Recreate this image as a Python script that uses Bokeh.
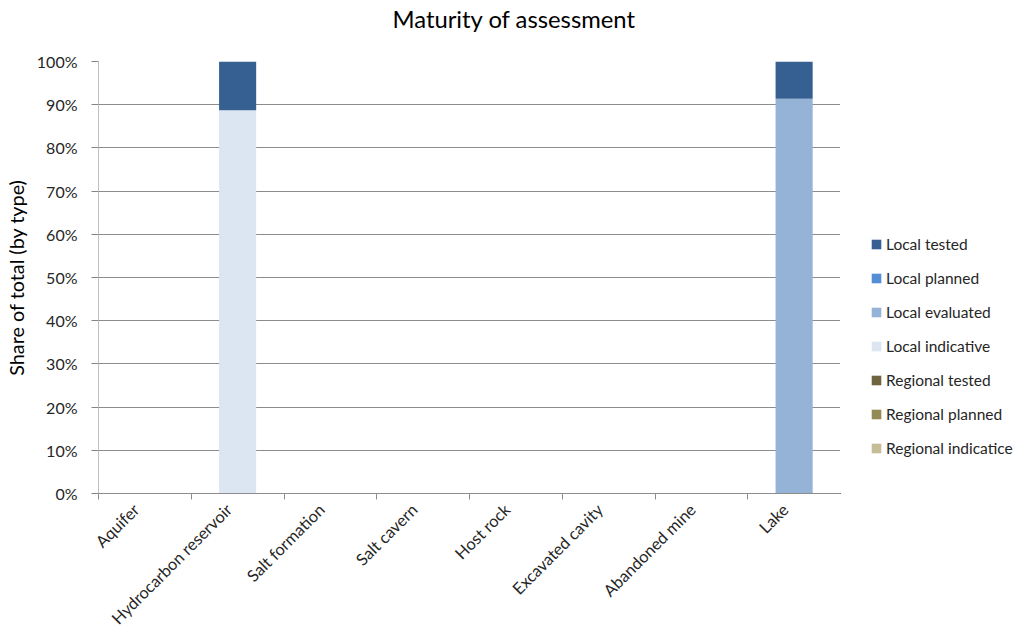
from bokeh.plotting import figure
from bokeh.layouts import row
from bokeh.models import (ColumnDataSource, Range1d, FixedTicker, NumeralTickFormatter,
                          Legend, LegendItem, Title)
from bokeh.embed import file_html
from bokeh.resources import INLINE

# Storage types and share of total per assessment maturity level
categories = ["Aquifer", "Hydrocarbon reservoir", "Salt formation", "Salt cavern",
              "Host rock", "Excavated cavity", "Abandoned mine", "Lake"]

regional_indicatice = [0, 0, 0, 0, 0, 0, 0, 0]
regional_planned    = [0, 0, 0, 0, 0, 0, 0, 0]
regional_tested     = [0, 0, 0, 0, 0, 0, 0, 0]
local_indicative    = [0, 0.887, 0, 0, 0, 0, 0, 0]
local_evaluated     = [0, 0, 0, 0, 0, 0, 0, 0.914]
local_planned       = [0, 0, 0, 0, 0, 0, 0, 0]
local_tested        = [0, 0.113, 0, 0, 0, 0, 0, 0.086]

series_names = ["Regional indicatice", "Regional planned", "Regional tested",
                "Local indicative", "Local evaluated", "Local planned", "Local tested"]
series_values = [regional_indicatice, regional_planned, regional_tested,
                 local_indicative, local_evaluated, local_planned, local_tested]
series_colors = ["#c4bd97", "#948a54", "#6e6540",
                 "#dce6f2", "#95b3d7", "#558ed5", "#376092"]

y_ticks = [i / 10 for i in range(11)]

FONT = "Lato"
TEXT = "#262626"

positions = [i + 0.5 for i in range(len(categories))]
data = {"x": positions}
for name, vals in zip(series_names, series_values):
    data[name] = vals
source = ColumnDataSource(data)

# main chart: plot area spans x 95..840, y 61..493
p = figure(width=840, height=637, output_backend="svg", toolbar_location=None,
           x_range=Range1d(0, len(categories)), y_range=Range1d(0, 1),
           min_border_left=95, min_border_right=0, min_border_top=61,
           min_border_bottom=144, title="Maturity of assessment")
p.outline_line_color = None
p.background_fill_color = "white"
p.border_fill_color = "white"

p.title.align = "left"
p.title.offset = 294
p.title.vertical_align = "top"
p.title.standoff = 0
p.title.text_font = FONT
p.title.text_font_size = "23.8px"
p.title.text_font_style = "normal"
p.title.text_color = "#000000"
# blank spacer between the title and the plot area
p.add_layout(Title(text=" ", text_font_size="22px", standoff=0), "above")

renderers = p.vbar_stack(series_names, x="x", width=0.4, color=series_colors,
                         line_color=None, source=source)

# y axis: percent ticks with horizontal gridlines
p.yaxis.ticker = FixedTicker(ticks=y_ticks)
p.yaxis.formatter = NumeralTickFormatter(format="0%")
p.yaxis.axis_line_color = "#bfbfbf"
p.yaxis.major_tick_line_color = "#868686"
p.yaxis.major_tick_out = 7
p.yaxis.major_tick_in = 0
p.yaxis.minor_tick_line_color = None
p.yaxis.major_label_standoff = 14
p.yaxis.major_label_text_font = FONT
p.yaxis.major_label_text_font_size = "16px"
p.yaxis.major_label_text_color = TEXT
p.yaxis.axis_label = "Share of total (by type)"
p.yaxis.axis_label_text_font = FONT
p.yaxis.axis_label_text_font_size = "19.8px"
p.yaxis.axis_label_text_font_style = "normal"
p.yaxis.axis_label_text_color = "#000000"
p.yaxis.axis_label_standoff = 6

p.ygrid.ticker = FixedTicker(ticks=y_ticks)
p.ygrid.grid_line_color = "#8c8c8c"
p.xgrid.grid_line_color = None

# x axis: slanted labels ending at each category centre, ticks between categories
label_pos = [x - 0.097 for x in positions]
p.xaxis.ticker = FixedTicker(ticks=label_pos, minor_ticks=list(range(len(categories) + 1)))
p.xaxis.major_label_overrides = {pos: name for pos, name in zip(label_pos, categories)}
p.xaxis.major_label_orientation = 0.785398
p.xaxis.major_tick_line_color = None
p.xaxis.major_tick_out = 0
p.xaxis.major_tick_in = 0
p.xaxis.minor_tick_line_color = "#8c8c8c"
p.xaxis.minor_tick_out = 6
p.xaxis.minor_tick_in = 0
p.xaxis.axis_line_color = "#8c8c8c"
p.xaxis.major_label_standoff = 7
p.xaxis.major_label_text_font = FONT
p.xaxis.major_label_text_font_size = "16.4px"
p.xaxis.major_label_text_color = TEXT

# legend panel to the right of the chart, top series first; its bars fall
# outside the visible ranges so only the legend swatches show
lg = figure(width=190, height=637, output_backend="svg", toolbar_location=None,
            x_range=Range1d(100, 101), y_range=Range1d(10, 11),
            min_border_left=0, min_border_right=0, min_border_top=61,
            min_border_bottom=144)
lg.axis.visible = False
lg.grid.grid_line_color = None
lg.outline_line_color = None
lg.border_fill_color = "white"
swatches = lg.vbar_stack(series_names, x="x", width=0.4, color=series_colors,
                         line_color=None, source=source)
items = [LegendItem(label=name, renderers=[r])
         for name, r in zip(reversed(series_names), reversed(swatches))]
legend = Legend(items=items, location=(30, 35), orientation="vertical",
                glyph_width=12, glyph_height=12, label_height=20, spacing=14,
                label_standoff=4, padding=0, margin=0,
                border_line_color=None, background_fill_alpha=0,
                label_text_font=FONT, label_text_font_size="15.5px",
                label_text_color=TEXT)
lg.add_layout(legend, "center")

layout = row(p, lg, spacing=0)
open("out.html", "w").write(file_html(layout, INLINE))
